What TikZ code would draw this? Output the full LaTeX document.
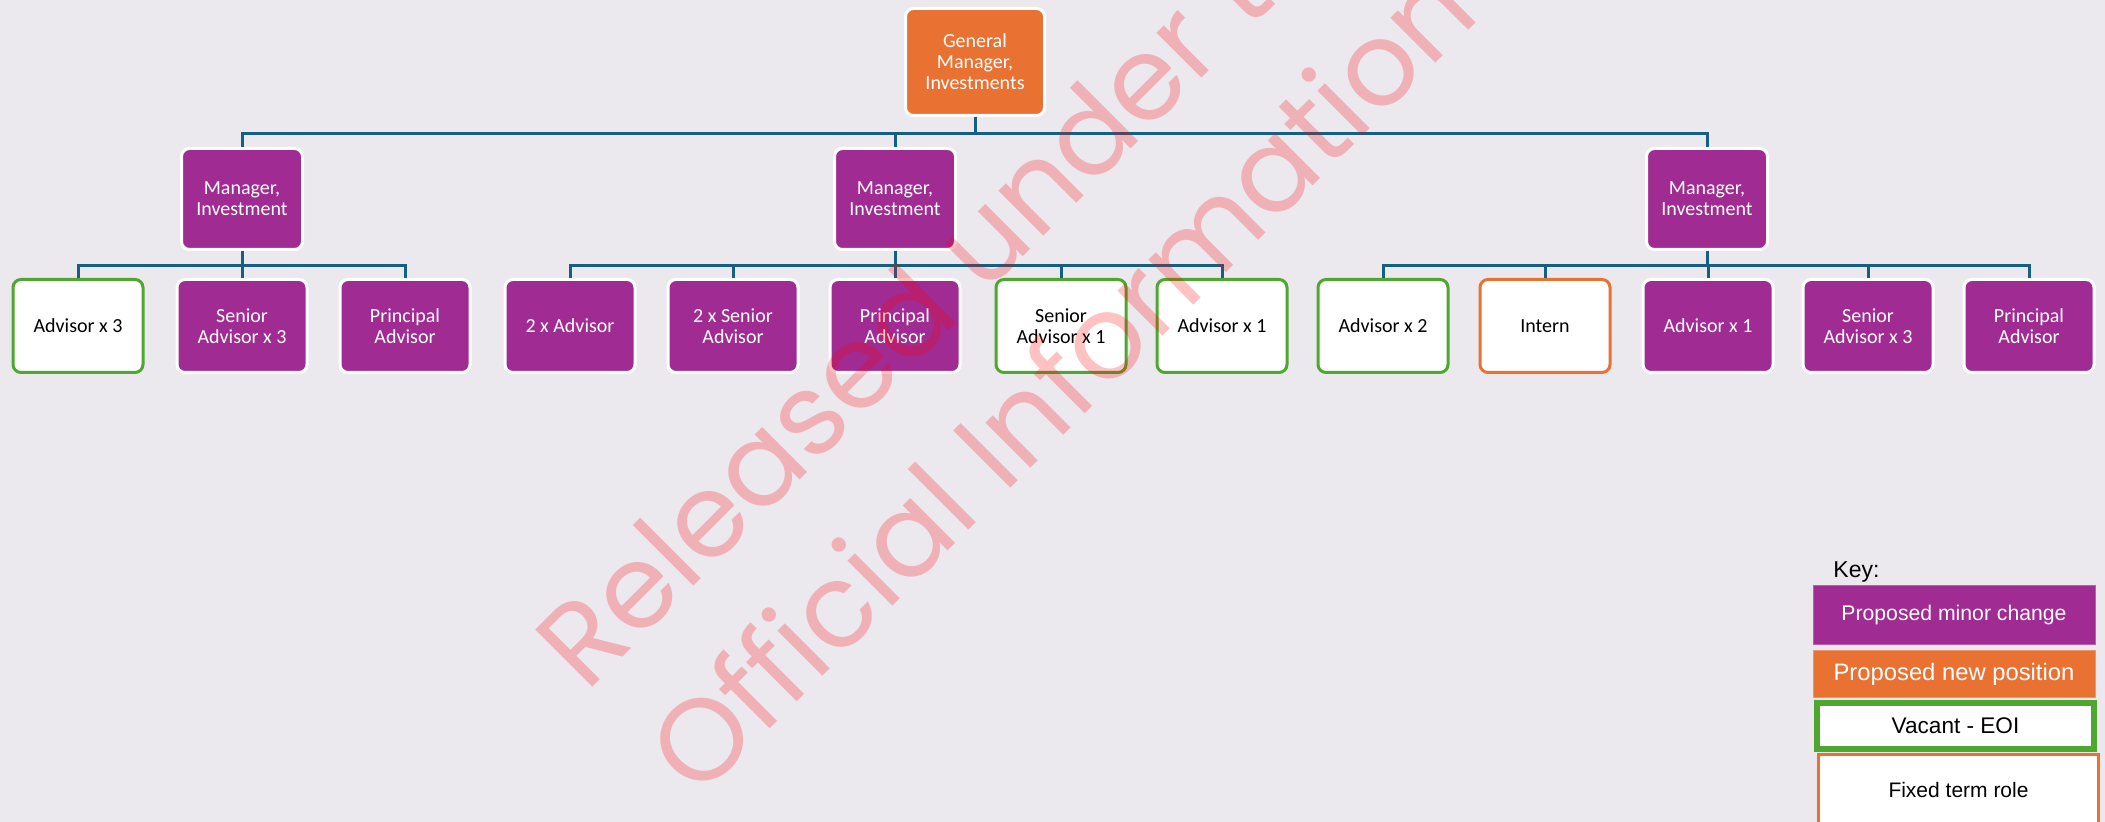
\documentclass[tikz,border=0pt]{standalone}
\usepackage{fontspec}
\setmainfont{Carlito}
\newfontfamily\keyfont{Liberation Sans}
\newfontfamily\markfont{Poppins}

\definecolor{bgcol}{RGB}{235,233,238}
\definecolor{minorcol}{RGB}{160,43,147}
\definecolor{newcol}{RGB}{233,113,50}
\definecolor{vacantcol}{RGB}{78,167,46}
\definecolor{linecol}{RGB}{21,96,130}

\begin{document}
\begin{tikzpicture}[x=0.5pt,y=0.5pt,yscale=-1,xscale=1,
  box/.style={draw=white,line width=1.5pt,rounded corners=4pt,align=center,inner sep=2pt,minimum width=65pt,minimum height=46.5pt,font=\fontsize{10}{10.5}\selectfont},
  minor/.style={box,fill=minorcol,text=white},
  newpos/.style={box,fill=newcol,text=white},
  vacant/.style={box,fill=white,draw=vacantcol,text=black},
  fixedterm/.style={box,fill=white,draw=newcol,text=black},
  mgr/.style={minimum width=60.5pt,minimum height=50.5pt},
  conn/.style={draw=linecol,line width=1.5pt},
  keybox/.style={inner sep=0pt,minimum width=141pt,font=\keyfont},
  watermark/.style={rotate=45,anchor=base west,inner sep=0pt,text=red,text opacity=0.24,font=\markfont\fontsize{58}{70}\selectfont}]

%Background
\fill[bgcol] (0,0) rectangle (2105,822);
\useasboundingbox (0,0) rectangle (2105,822);

%Top level
\node[newpos,minimum width=69.5pt,minimum height=53.5pt] (gm) at (975,62) {General\\Manager,\\Investments};

%Managers
\node[minor,mgr] (m1) at (242,199) {Manager,\\Investment};
\node[minor,mgr] (m2) at (895,199) {Manager,\\Investment};
\node[minor,mgr] (m3) at (1707,199) {Manager,\\Investment};

%First team
\node[vacant] (a1) at (78,326) {Advisor x 3};
\node[minor] (a2) at (242,326) {Senior\\Advisor x 3};
\node[minor] (a3) at (405,326) {Principal\\Advisor};

%Second team
\node[minor] (b1) at (570,326) {2 x Advisor};
\node[minor] (b2) at (733,326) {2 x Senior\\Advisor};
\node[minor] (b3) at (895,326) {Principal\\Advisor};
\node[vacant] (b4) at (1061,326) {Senior\\Advisor x 1};
\node[vacant] (b5) at (1222,326) {Advisor x 1};

%Third team
\node[vacant] (c1) at (1383,326) {Advisor x 2};
\node[fixedterm] (c2) at (1545,326) {Intern};
\node[minor] (c3) at (1708,326) {Advisor x 1};
\node[minor] (c4) at (1868,326) {Senior\\Advisor x 3};
\node[minor] (c5) at (2029,326) {Principal\\Advisor};

%Connectors
\draw[conn] (gm.south) -- ++(0,17) -| (m1.north);
\draw[conn] (gm.south) -- ++(0,17) -| (m2.north);
\draw[conn] (gm.south) -- ++(0,17) -| (m3.north);

\draw[conn] (m1.south) -- ++(0,15) -| (a1.north);
\draw[conn] (m1.south) -- ++(0,15) -| (a2.north);
\draw[conn] (m1.south) -- ++(0,15) -| (a3.north);

\draw[conn] (m2.south) -- ++(0,15) -| (b1.north);
\draw[conn] (m2.south) -- ++(0,15) -| (b2.north);
\draw[conn] (m2.south) -- ++(0,15) -| (b3.north);
\draw[conn] (m2.south) -- ++(0,15) -| (b4.north);
\draw[conn] (m2.south) -- ++(0,15) -| (b5.north);

\draw[conn] (m3.south) -- ++(0,15) -| (c1.north);
\draw[conn] (m3.south) -- ++(0,15) -| (c2.north);
\draw[conn] (m3.south) -- ++(0,15) -| (c3.north);
\draw[conn] (m3.south) -- ++(0,15) -| (c4.north);
\draw[conn] (m3.south) -- ++(0,15) -| (c5.north);

%Key
\node[anchor=base west,inner sep=0pt,font=\keyfont\fontsize{11.5}{12}\selectfont] (keytitle) at (1833,578) {Key:};
\node[keybox,fill=minorcol,draw=minorcol!75!white,line width=0.5pt,minimum height=29.5pt,text=white,font=\keyfont\fontsize{10.6}{12}\selectfont] (kminor) at (1954,615.5) {Proposed minor change};
\node[keybox,fill=newcol,draw=newcol!75!white,line width=0.5pt,minimum height=23.5pt,text=white,font=\keyfont\fontsize{11.9}{13}\selectfont] (knew) at (1954,674.5) {Proposed new position};
\node[keybox,fill=white,draw=vacantcol,line width=3pt,minimum width=138.5pt,minimum height=23pt,font=\keyfont\fontsize{11.3}{13}\selectfont] (kvacant) at (1955.5,726) {Vacant - EOI};
\node[keybox,fill=white,draw=newcol,line width=1.5pt,minimum width=140pt,minimum height=35pt,font=\keyfont\fontsize{10.5}{12}\selectfont] (kfixed) at (1958.5,790) {Fixed term role};

%Watermark
\node[watermark] (wmtop) at (586,694) {Released under the};
\node[watermark] (wmbottom) at (698,801) {Official Information Act};

\end{tikzpicture}
\end{document}
